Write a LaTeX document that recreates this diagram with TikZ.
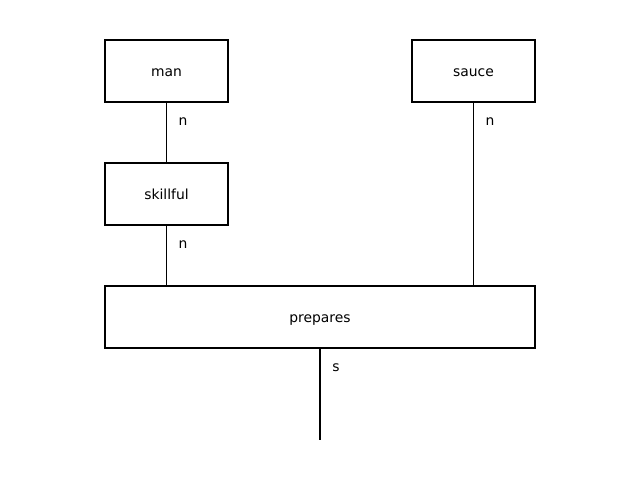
\documentclass[tikz,border=0pt]{standalone}
\usepackage{fontspec}
\setmainfont{DejaVu Sans}
\usetikzlibrary{positioning}

\tikzset{
	txt/.style={font=\fontsize{7.9}{9}\selectfont, text height=6.6pt, text depth=0pt},
	box/.style={draw, txt, line width=0.75pt, minimum width=2.46cm, minimum height=1.24cm, inner sep=0pt},
	wire/.style={line width=0.75pt},
	lbl/.style={txt, inner sep=0pt}
}

\begin{document}
\begin{tikzpicture}[x=0.02cm,y=-0.02cm]
		\useasboundingbox (0,0) rectangle (640,480);
		
		%Boxes
		\node[box] (man)      at (166.5,71)  {man};
		\node[box] (sauce)    at (473.5,71)  {sauce};
		\node[box] (skillful) at (166.5,194) {skillful};
		\node[box, minimum width=8.6cm] (prepares) at (320,317) {prepares};
		\coordinate (out) at (320,440);
		
		%Wires
		\draw[wire] (man.south) -- (skillful.north);
		\draw[wire] (skillful.south) -- (skillful.south |- prepares.north);
		\draw[wire] (sauce.south) -- (sauce.south |- prepares.north);
		\draw[wire] (prepares.south) -- (out);
		
		%Types
		\node[lbl] (t_man)   at (183,120) {n};
		\node[lbl] (t_skill) at (183,243) {n};
		\node[lbl] (t_sauce) at (490,120) {n};
		\node[lbl] (t_out)   at (336,366) {s};
		
\end{tikzpicture}
\end{document}
